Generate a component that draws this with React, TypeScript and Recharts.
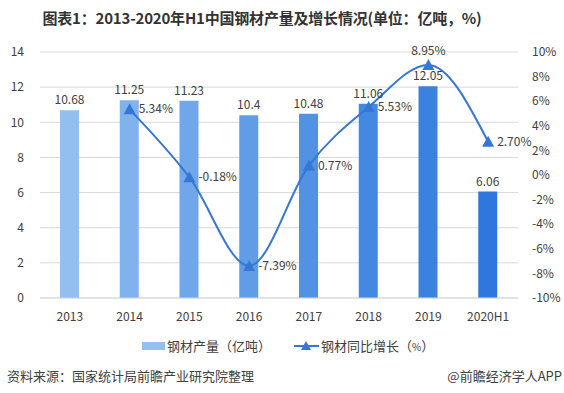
import React from "react";
import {
  ComposedChart,
  Bar,
  Line,
  Cell,
  XAxis,
  YAxis,
  CartesianGrid,
  LabelList,
} from "recharts";

const years = ["2013", "2014", "2015", "2016", "2017", "2018", "2019", "2020H1"];
const output = [10.68, 11.25, 11.23, 10.4, 10.48, 11.06, 12.05, 6.06];
const growth = [null, 5.34, -0.18, -7.39, 0.77, 5.53, 8.95, 2.7];
const leftTicks = [0, 2, 4, 6, 8, 10, 12, 14];
const rightTicks = [-10, -8, -6, -4, -2, 0, 2, 4, 6, 8, 10];

const barColors = ["#92bef0", "#80b2ed", "#70a7ea", "#619de7", "#5192e4", "#4388e1", "#3b81e0", "#2f77dc"];
const lineColor = "#3577d3";
const font = "'Noto Sans CJK SC', 'Noto Sans', sans-serif";

const data = years.map((y, i) => ({ year: y, output: output[i], growth: growth[i] }));

// 三角形标记
const Triangle = (props: any) => {
  const { cx, cy, value } = props;
  if (value == null || cx == null || cy == null) return null;
  return (
    <path
      d={`M${cx},${cy - 6} L${cx + 6},${cy + 5} L${cx - 6},${cy + 5} Z`}
      fill={lineColor}
    />
  );
};

const GrowthLabel = (props: any) => {
  const { x, y, value, index } = props;
  if (value == null) return null;
  const txt = `${Number(value).toFixed(2)}%`;
  if (years[index] === "2019") {
    return (
      <text x={x} y={y - 10} textAnchor="middle" fontSize={12} fill="#404040" fontFamily={font}>
        {txt}
      </text>
    );
  }
  return (
    <text x={x + 9} y={y + 4} textAnchor="start" fontSize={12} fill="#404040" fontFamily={font}>
      {txt}
    </text>
  );
};

export default function App() {
  return (
    <div
      style={{
        position: "absolute",
        left: 0,
        top: 0,
        width: 564,
        height: 393,
        background: "#fff",
        fontFamily: font,
      }}
    >
      <div
        style={{
          position: "absolute",
          top: 7,
          left: -20,
          width: 564,
          textAlign: "center",
          fontSize: 15,
          fontWeight: "bold",
          color: "#333",
          letterSpacing: -0.2,
        }}
      >
        图表1：2013-2020年H1中国钢材产量及增长情况(单位：亿吨，%)
      </div>

      <ComposedChart
        width={564}
        height={393}
        data={data}
        margin={{ top: 52, right: 0, left: 0, bottom: 65 }}
        style={{ position: "absolute", left: 0, top: 0 }}
      >
        <CartesianGrid yAxisId="left" vertical={false} stroke="#d9d9d9" />
        <XAxis
          dataKey="year"
          axisLine={{ stroke: "#d9d9d9" }}
          tickLine={false}
          height={30}
          tickMargin={8}
          tick={{ fill: "#404040", fontSize: 12, fontFamily: font }}
        />
        <YAxis
          yAxisId="left"
          domain={[0, 14]}
          ticks={leftTicks}
          width={40}
          axisLine={false}
          tickLine={false}
          tickMargin={10}
          tick={{ fill: "#404040", fontSize: 12, fontFamily: font }}
        />
        <YAxis
          yAxisId="right"
          orientation="right"
          domain={[-10, 10]}
          ticks={rightTicks}
          width={46}
          axisLine={false}
          tickLine={false}
          tickMargin={8}
          tickFormatter={(v: number) => `${v}%`}
          tick={{ fill: "#404040", fontSize: 12, fontFamily: font }}
        />
        <Bar yAxisId="left" dataKey="output" barSize={19} isAnimationActive={false}>
          {data.map((d, i) => (
            <Cell key={d.year} fill={barColors[i]} />
          ))}
          <LabelList
            dataKey="output"
            position="top"
            offset={6}
            fill="#404040"
            fontSize={12}
            fontFamily={font}
          />
        </Bar>
        <Line
          yAxisId="right"
          dataKey="growth"
          type="monotone"
          stroke={lineColor}
          strokeWidth={2}
          dot={<Triangle />}
          activeDot={false}
          isAnimationActive={false}
        >
          <LabelList dataKey="growth" content={<GrowthLabel />} />
        </Line>
      </ComposedChart>

      {/* 图例 */}
      <div
        style={{
          position: "absolute",
          top: 336,
          left: 142,
          display: "flex",
          alignItems: "center",
          fontSize: 13,
          color: "#404040",
          whiteSpace: "nowrap",
        }}
      >
        <span style={{ display: "inline-block", width: 23, height: 8, background: barColors[0], marginRight: 2 }} />
        <span>钢材产量（亿吨）</span>
        <svg width={27} height={14} style={{ marginLeft: 22, marginRight: 1 }}>
          <line x1={1} y1={7} x2={26} y2={7} stroke={lineColor} strokeWidth={2} />
          <path d="M13,2 L18,11 L8,11 Z" fill={lineColor} />
        </svg>
        <span>
          钢材同比增长（<span style={{ fontSize: 10 }}>%</span>）
        </span>
      </div>

      <div style={{ position: "absolute", top: 366, left: 7, fontSize: 13, color: "#404040" }}>
        资料来源：国家统计局前瞻产业研究院整理
      </div>
      <div style={{ position: "absolute", top: 366, right: 2, fontSize: 13, color: "#404040" }}>
        @前瞻经济学人APP
      </div>
    </div>
  );
}
